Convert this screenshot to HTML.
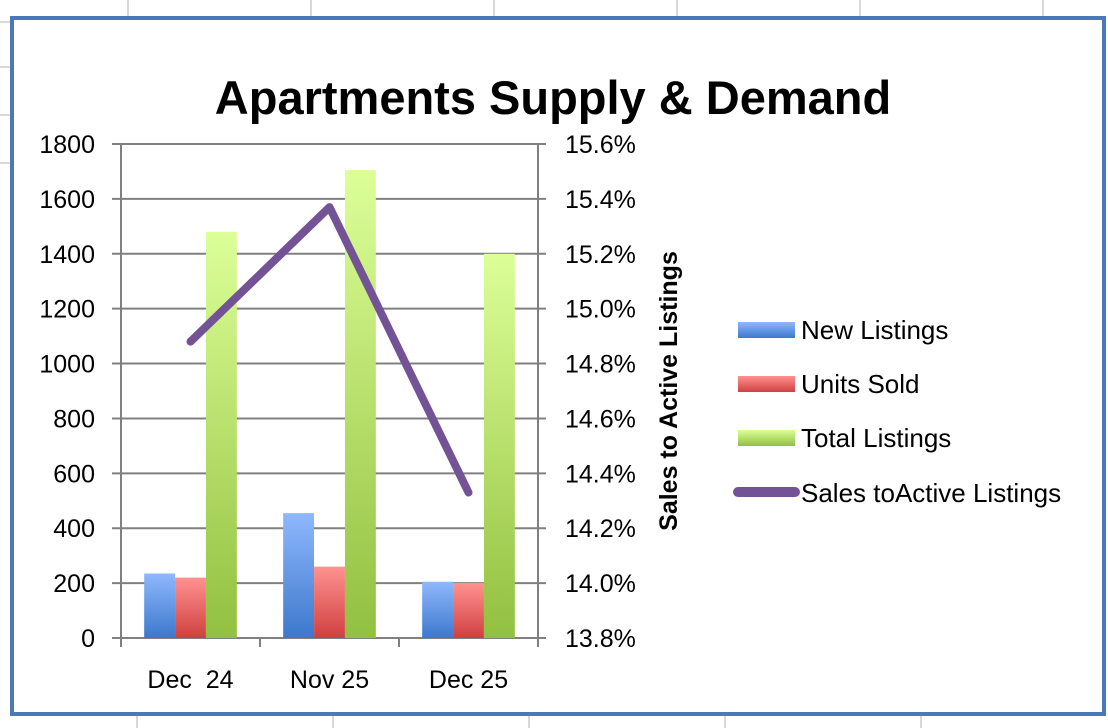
<!DOCTYPE html>
<html><head><meta charset="utf-8"><style>
body{margin:0;background:#fff;width:1108px;height:728px;overflow:hidden}
svg{display:block;font-family:"Liberation Sans",sans-serif}
</style></head><body>
<svg id="c" width="1108" height="728">
<defs>
<linearGradient id="gb" x1="0" y1="0" x2="0" y2="1"><stop offset="0" stop-color="#8fb8fd"/><stop offset="1" stop-color="#3d78cc"/></linearGradient>
<linearGradient id="gr" x1="0" y1="0" x2="0" y2="1"><stop offset="0" stop-color="#ff9290"/><stop offset="1" stop-color="#cf4040"/></linearGradient>
<linearGradient id="gg" x1="0" y1="0" x2="0" y2="1"><stop offset="0" stop-color="#dcff98"/><stop offset="1" stop-color="#92c040"/></linearGradient>
</defs>
<g id="sheet" stroke="#d8d8d8" stroke-width="2">
<line x1="128" y1="0" x2="128" y2="17"/><line x1="311" y1="0" x2="311" y2="17"/><line x1="494" y1="0" x2="494" y2="17"/><line x1="677" y1="0" x2="677" y2="17"/><line x1="860" y1="0" x2="860" y2="17"/><line x1="1043" y1="0" x2="1043" y2="17"/>
<line x1="137" y1="716" x2="137" y2="728"/><line x1="333" y1="716" x2="333" y2="728"/><line x1="529" y1="716" x2="529" y2="728"/><line x1="725" y1="716" x2="725" y2="728"/><line x1="921" y1="716" x2="921" y2="728"/>
<line x1="0" y1="22" x2="11" y2="22"/><line x1="0" y1="67" x2="11" y2="67"/><line x1="0" y1="115" x2="11" y2="115"/><line x1="0" y1="163" x2="11" y2="163"/>
</g>
<rect x="12" y="18" width="1092" height="696" fill="#fff" stroke="#4a78b8" stroke-width="4"/>
<text x="553" y="114" text-anchor="middle" font-size="47" font-weight="bold">Apartments Supply &amp; Demand</text>
<g id="plot"></g>
<text transform="translate(677,391) rotate(-90)" text-anchor="middle" font-size="25" font-weight="bold">Sales to Active Listings</text>
<g id="legend" font-size="26">
<g><rect x="738" y="322" width="57" height="16" fill="url(#gb)"/><text x="801" y="339">New Listings</text></g>
<g><rect x="738" y="376" width="57" height="16" fill="url(#gr)"/><text x="801" y="393">Units Sold</text></g>
<g><rect x="738" y="430" width="57" height="16" fill="url(#gg)"/><text x="801" y="447">Total Listings</text></g>
<g><line x1="738" y1="492" x2="795" y2="492" stroke="#735396" stroke-width="10" stroke-linecap="round"/><text x="801" y="502">Sales toActive Listings</text></g>
</g>
</svg>
<script>
const categories=["Dec  24","Nov 25","Dec 25"];
const newListings=[235,455,205];
const unitsSold=[220,260,200];
const totalListings=[1480,1705,1400];
const salesRatio=[14.88,15.37,14.33];
const leftTicks=[0,200,400,600,800,1000,1200,1400,1600,1800];
const rightTicks=["13.8%","14.0%","14.2%","14.4%","14.6%","14.8%","15.0%","15.2%","15.4%","15.6%"];
const NS="http://www.w3.org/2000/svg";
const g=document.getElementById('plot');
const L=121,R=538,T=144,B=638;
const y=v=>B-(v/1800)*(B-T);
const y2=v=>B-((v-13.8)/1.8)*(B-T);
const cw=(R-L)/categories.length, bw=cw/4.5;
function mk(t,a){const e=document.createElementNS(NS,t);for(const k in a)e.setAttribute(k,a[k]);g.appendChild(e);return e;}
leftTicks.forEach((v,i)=>{
 const l=mk('line',{x1:112,x2:546,y1:y(v),y2:y(v),stroke:'#808080','stroke-width':2});
 
 
 const t=mk('text',{x:95,y:y(v)+9,'text-anchor':'end','font-size':25});t.textContent=v;
 
 
 const t2=mk('text',{x:565,y:y(v)+9,'font-size':25});t2.textContent=rightTicks[i];
 
 
});
[L,R].forEach(x=>{const a=mk('line',{x1:x,x2:x,y1:T,y2:B+9,stroke:'#808080','stroke-width':2});
 
 });
for(let i=1;i<categories.length;i++){const a=mk('line',{x1:L+cw*i,x2:L+cw*i,y1:B,y2:B+9,stroke:'#808080','stroke-width':2});
 
 }
const series=[[newListings,'url(#gb)','bar-new-listings'],[unitsSold,'url(#gr)','bar-units-sold'],[totalListings,'url(#gg)','bar-total-listings']];
categories.forEach((c,i)=>{
 const x0=L+cw*i+bw*0.75;
 series.forEach((s,j)=>{
  const r=mk('rect',{x:x0+bw*j,y:y(s[0][i]),width:bw,height:B-y(s[0][i]),fill:s[1]});
  
  
 });
 const t=mk('text',{x:L+cw*(i+0.5),y:688,'text-anchor':'middle','font-size':25});
 t.setAttribute('style','white-space:pre');t.textContent=c;
 
 
});
const pts=salesRatio.map((v,i)=>(L+cw*(i+0.5))+','+y2(v)).join(' ');
const pl=mk('polyline',{points:pts,fill:'none',stroke:'#735396','stroke-width':8,'stroke-linecap':'round','stroke-linejoin':'round'});


</script>
</body></html>
